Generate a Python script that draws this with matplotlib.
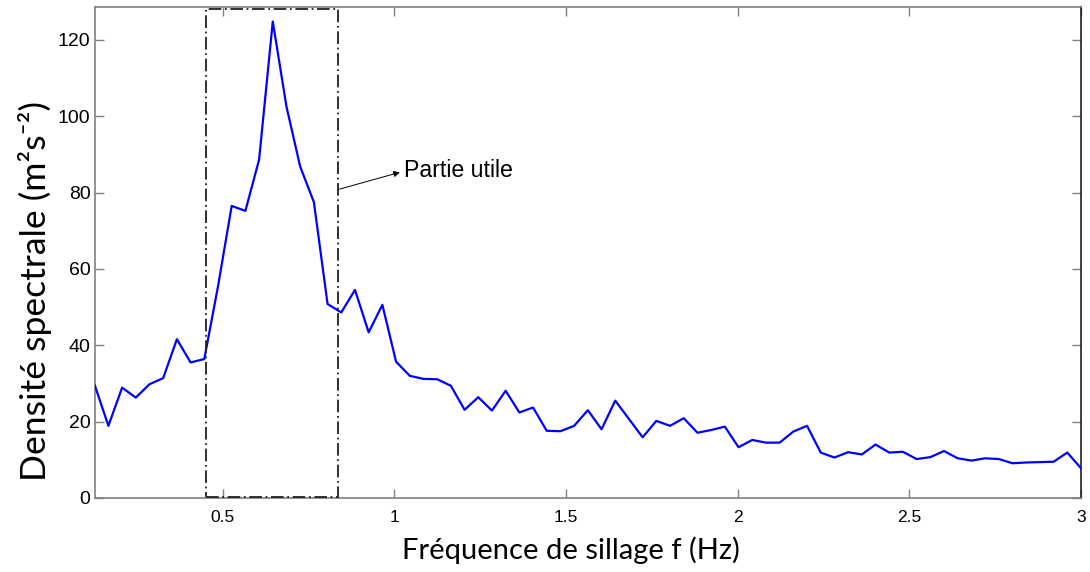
import numpy as np
import matplotlib
matplotlib.use("Agg")
import matplotlib.pyplot as plt
from matplotlib.patches import Rectangle

# ---- data ----
f_start, f_end = 0.127, 3.0
psd = [29.6, 18.9, 28.9, 26.3, 29.8, 31.4, 41.6, 35.5, 36.4, 55.4,
       76.5, 75.2, 88.6, 124.8, 102.5, 86.8, 77.5, 50.8, 48.6, 54.5,
       43.4, 50.6, 35.7, 32.0, 31.2, 31.1, 29.4, 23.1, 26.4, 22.9,
       28.1, 22.4, 23.7, 17.6, 17.5, 18.9, 23.0, 18.0, 25.5, 20.7,
       15.9, 20.2, 18.9, 20.9, 17.1, 17.8, 18.7, 13.3, 15.2, 14.5,
       14.5, 17.4, 18.9, 11.9, 10.6, 12.0, 11.4, 14.0, 11.9, 12.1,
       10.2, 10.7, 12.3, 10.4, 9.8, 10.4, 10.2, 9.1, 9.3, 9.4,
       9.5, 11.9, 7.8]
freq = np.linspace(f_start, f_end, len(psd))

xticks = [0.5, 1, 1.5, 2, 2.5, 3]
xticklabels = ["0.5", "1", "1.5", "2", "2.5", "3"]
yticks = [0, 20, 40, 60, 80, 100, 120]

box_x = [0.45, 0.837]
box_y = [0.3, 128.1]
annot_text = "Partie utile"
annot_xy = (0.84, 80.9)
annot_text_xy = (1.028, 85.7)

xlabel = "Fréquence de sillage f (Hz)"
ylabel = "Densité spectrale (m²s⁻²)"

# ---- figure ----
fig = plt.figure(figsize=(10.9, 5.72), dpi=100)
ax = fig.add_axes([94.7/1090, 1-498/572, (1081-94.7)/1090, (498-7)/572])

ax.plot(freq, psd, color='#0000ff', lw=1.6, zorder=3)

ax.set_xlim(f_start, f_end)
ax.set_ylim(0, 128.6)
ax.set_xticks(xticks)
ax.set_xticklabels(xticklabels, family=['Liberation Sans Narrow', 'Liberation Sans'], fontsize=12.5)
ax.set_yticks(yticks)
ax.set_yticklabels([str(v) for v in yticks], family='Liberation Sans', fontsize=14)

ax.tick_params(axis='both', direction='in', length=6.5, width=1.0, color='#808080',
               top=True, right=True)
ax.tick_params(axis='y', pad=3)
ax.tick_params(axis='x', pad=9)
for s in ['left', 'top', 'bottom']:
    ax.spines[s].set_color('#808080')
    ax.spines[s].set_linewidth(1.2)
ax.spines['right'].set_color('#202020')
ax.spines['right'].set_linewidth(1.2)

rect = Rectangle((box_x[0], box_y[0]), box_x[1]-box_x[0], box_y[1]-box_y[0],
                 fill=False, edgecolor='#202020', lw=1.3, linestyle=(0, (7, 2, 1, 2)), zorder=4)
ax.add_patch(rect)

t_annot = ax.text(annot_text_xy[0], annot_text_xy[1], annot_text, fontsize=13,
                  family='Liberation Sans', va='center', ha='left')
ax.annotate("", xy=(annot_text_xy[0]-0.012, annot_text_xy[1]-0.4), xytext=annot_xy,
            arrowprops=dict(arrowstyle='-|>', lw=0.7, color='black', mutation_scale=9,
                            shrinkA=0, shrinkB=0))

t_x = fig.text(571/1090, 1-550/572, xlabel, family=['Lato', 'DejaVu Sans'], fontsize=20,
               ha='center', va='center')
t_y = fig.text(35/1090, 1-291/572, ylabel, family=['Lato', 'DejaVu Sans'], fontsize=21,
               ha='center', va='center', rotation=90)

# fit text sizes to the measured extents of the reference
fig.canvas.draw()
r = fig.canvas.get_renderer()
def fit(t, target, use_height=False):
    for _ in range(3):
        bb = t.get_window_extent(r)
        cur = bb.height if use_height else bb.width
        t.set_fontsize(t.get_fontsize() * target / cur)
        fig.canvas.draw()
fit(t_x, 337)
fit(t_y, 380, use_height=True)
fit(t_annot, 109)

fig.savefig("out.png", dpi=100)
